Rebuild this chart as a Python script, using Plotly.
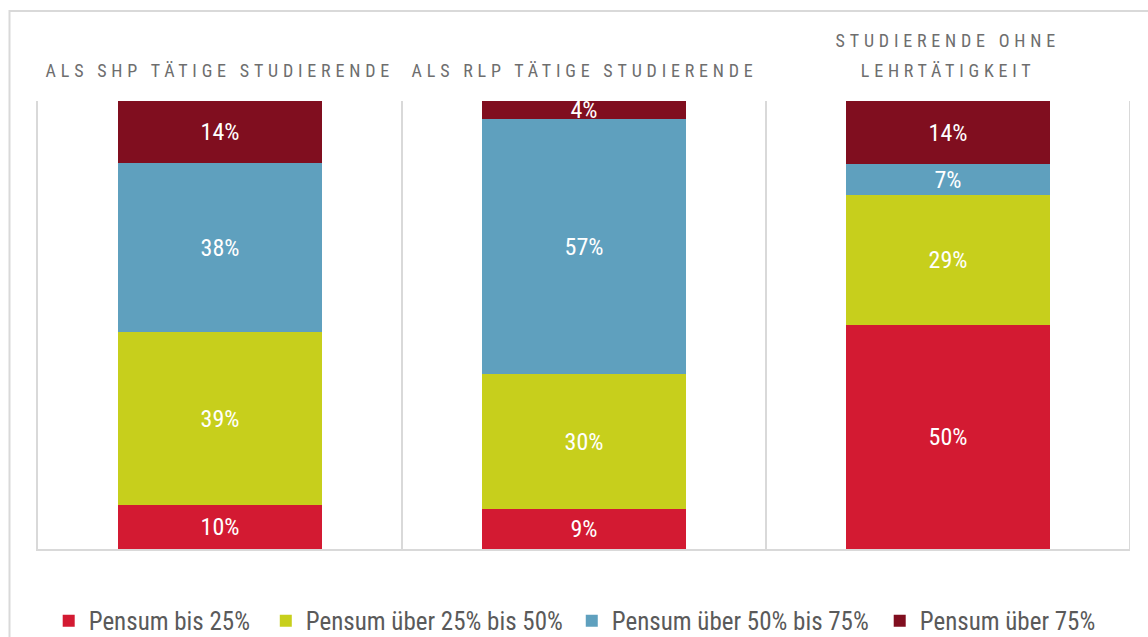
import plotly.graph_objects as go

groups = ["ALS SHP TÄTIGE STUDIERENDE", "ALS RLP TÄTIGE STUDIERENDE", "STUDIERENDE OHNE LEHRTÄTIGKEIT"]
title_lines = [["ALS SHP TÄTIGE STUDIERENDE"], ["ALS RLP TÄTIGE STUDIERENDE"], ["STUDIERENDE OHNE", "LEHRTÄTIGKEIT"]]
series_names = ["Pensum bis 25%", "Pensum über 25% bis 50%", "Pensum über 50% bis 75%", "Pensum über 75%"]
bis25 = [10, 9, 50]
ueber25bis50 = [39, 30, 29]
ueber50bis75 = [38, 57, 7]
ueber75 = [14, 4, 14]
colors = ["#D31A32", "#C7CF1C", "#5FA0BE", "#800E1F"]

FONT = "Liberation Sans Narrow, Roboto Condensed, Arial Narrow, DejaVu Sans Condensed, sans-serif"
series = [bis25, ueber25bis50, ueber50bis75, ueber75]
legend_ids = ["legend", "legend2", "legend3", "legend4"]
legend_x = [0.0098, 0.2086, 0.4888, 0.7708]

fig = go.Figure()
for name, vals, col, lid in zip(series_names, series, colors, legend_ids):
    fig.add_trace(go.Bar(
        x=groups, y=vals, name=name, legend=lid,
        marker=dict(color=col, line=dict(width=0)),
        text=[f"{v}%" for v in vals],
        textposition="inside", insidetextanchor="middle", textangle=0,
        textfont=dict(family=FONT, size=24, color="white"),
        width=0.558, hoverinfo="skip",
    ))

LINE = "#D9D9D9"
shapes = []
for xv in [0.5, 1.5, 2.5]:
    shapes.append(dict(type="line", xref="x", yref="paper", x0=xv, x1=xv, y0=0, y1=1,
                       line=dict(color=LINE, width=2)))
# outer frame (extends beyond the visible page on the right and bottom)
shapes.append(dict(type="rect", xref="paper", yref="paper", x0=-0.0261, x1=1.04, y0=-0.26, y1=1.2009,
                   line=dict(color=LINE, width=2), fillcolor="rgba(0,0,0,0)", layer="below"))

annotations = []
for i, lines in enumerate(title_lines):
    ys = [1.067] if len(lines) == 1 else [1.134, 1.067]
    for ln, yv in zip(lines, ys):
        annotations.append(dict(text=ln, xref="x", yref="paper", x=i, y=yv,
                                xanchor="center", yanchor="middle", showarrow=False,
                                font=dict(family=FONT, size=18, color="#6E6E6E")))

legend_common = dict(orientation="h", xanchor="left", y=-0.1607, yanchor="middle",
                     font=dict(family=FONT, size=25, color="#5A5A5A"),
                     itemclick=False, itemdoubleclick=False, bgcolor="rgba(0,0,0,0)")

fig.update_layout(
    width=1148, height=637,
    margin=dict(l=38, r=18, t=101, b=88, autoexpand=False),
    paper_bgcolor="white", plot_bgcolor="white",
    barmode="stack", barnorm="percent",
    bargap=0,
    uniformtext=dict(minsize=24, mode="show"),
    showlegend=True,
    xaxis=dict(range=[-0.5, 2.5], showline=True, linecolor=LINE, linewidth=2,
               showticklabels=False, ticks="", showgrid=False, zeroline=False, fixedrange=True),
    yaxis=dict(range=[0, 100], showline=True, linecolor=LINE, linewidth=2,
               showticklabels=False, ticks="", showgrid=False, zeroline=False, fixedrange=True),
    shapes=shapes, annotations=annotations,
    font=dict(family=FONT),
)
for lid, lx in zip(legend_ids, legend_x):
    fig.update_layout({lid: dict(x=lx, **legend_common)})

post = """
var gd = document.getElementById('{plot_id}');
function ls(){
  gd.querySelectorAll('.annotation-text').forEach(function(t){
    t.setAttribute('letter-spacing','4.8px');
    t.style.letterSpacing='4.8px';
  });
}
ls();
if (gd.on) { gd.on('plotly_afterplot', ls); }
setTimeout(ls, 50);
"""

fig.write_html("out.html", post_script=post, config={"displayModeBar": False})
